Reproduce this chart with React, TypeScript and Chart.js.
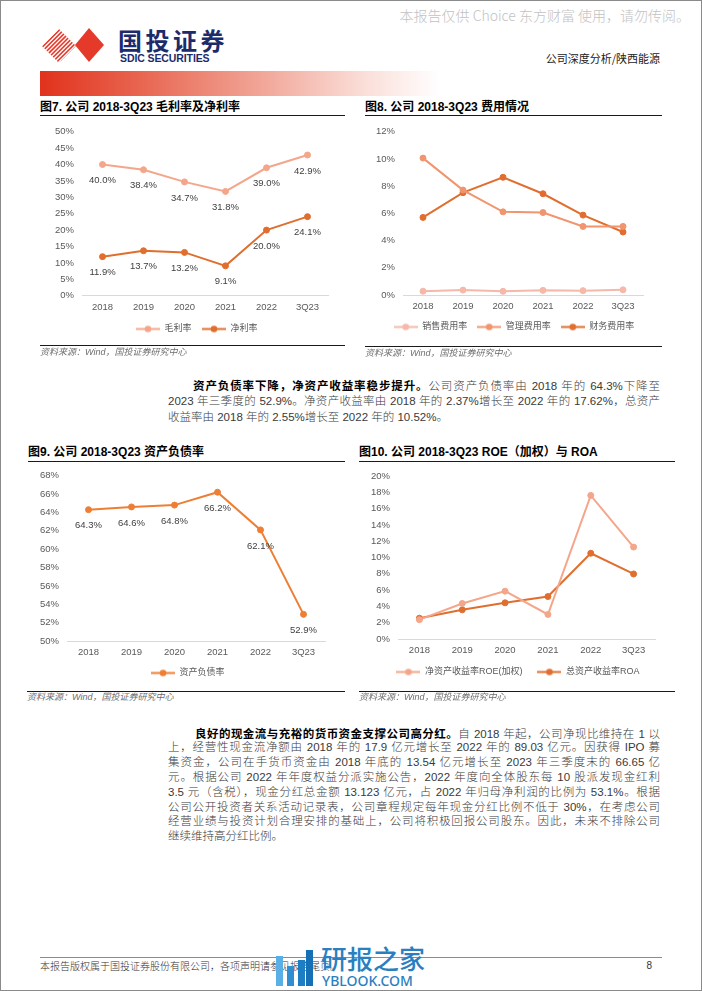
import React, { useEffect, useRef } from 'react';
import { Chart, registerables } from 'chart.js';

Chart.register(...registerables);

// ---------- DATA ----------
const CATEGORIES = ['2018', '2019', '2020', '2021', '2022', '3Q23'];

// 图7 毛利率 / 净利率 (%)
const GROSS_MARGIN = [40.0, 38.4, 34.7, 31.8, 39.0, 42.9];
const NET_MARGIN = [11.9, 13.7, 13.2, 9.1, 20.0, 24.1];
const FIG7_TICKS = [0, 5, 10, 15, 20, 25, 30, 35, 40, 45, 50];

// 图8 费用率 (%)
const SELLING_RATE = [0.28, 0.36, 0.27, 0.34, 0.32, 0.38];
const ADMIN_RATE = [10.06, 7.71, 6.11, 6.06, 5.04, 5.04];
const FINANCE_RATE = [5.7, 7.52, 8.65, 7.44, 5.87, 4.63];
const FIG8_TICKS = [0, 2, 4, 6, 8, 10, 12];

// 图9 资产负债率 (%)
const DEBT_RATIO = [64.3, 64.6, 64.8, 66.2, 62.1, 52.9];
const FIG9_TICKS = [50, 52, 54, 56, 58, 60, 62, 64, 66, 68];

// 图10 ROE / ROA (%)
const ROE = [2.37, 4.36, 5.87, 3.01, 17.62, 11.28];
const ROA = [2.55, 3.58, 4.44, 5.21, 10.52, 7.98];
const FIG10_TICKS = [0, 2, 4, 6, 8, 10, 12, 14, 16, 18, 20];

// ---------- STYLE ----------
const C_LIGHT = '#F4A68B';
const C_MID = '#F0956E';
const C_PALE = '#F5B8A9';
const C_DARK = '#E06E2E';
const C_ORANGE = '#EE7E34';

const FONT_LATIN = "'Liberation Sans', Arial, 'Noto Sans CJK SC', sans-serif";
const FONT_CJK = "'Noto Sans CJK SC', 'Liberation Sans', sans-serif";
const FONT_PARA = "'Liberation Sans Narrow', 'Liberation Sans', 'Noto Sans CJK SC', sans-serif";

// layout boxes (absolute page coords)
const FIG7_BOX = { L: 30, T: 118, W: 320, plotL: 82, plotT: 128.3, plotR: 328, plotB: 295.7, legCX: 196.75, legCY: 329, P: 10.5, fs: 9, xPad: 5.6 };
const FIG8_BOX = { L: 360, T: 118, W: 310, plotL: 403, plotT: 130, plotR: 643, plotB: 295, legCX: 514, legCY: 327, P: 10, fs: 9, xPad: 5.3 };
const FIG9_BOX = { L: 20, T: 462, W: 320, plotL: 67, plotT: 473, plotR: 325, plotB: 641, legCX: 187.8, legCY: 673, P: 10, fs: 9, xPad: 5.3 };
const FIG10_BOX = { L: 350, T: 462, W: 320, plotL: 398, plotT: 476, plotR: 655, plotB: 639, legCX: 518, legCY: 672, P: 15, fs: 9, xPad: 6 };

const X_AXIS_H = 20;

function computeLayout(b: any) {
  const pt = b.plotT - b.T;
  const pr = b.L + b.W - b.plotR;
  const yw = b.plotL - b.L;
  const legH = b.fs + b.P + 10;
  const need = b.plotB - b.T + X_AXIS_H + legH;
  const H = Math.ceil(need + 1);
  const pb = H - need;
  return { H, padding: { top: pt, left: 0, right: pr, bottom: pb }, yw, xh: X_AXIS_H };
}

function legendMarker(color: string) {
  const c = document.createElement('canvas');
  c.width = 24;
  c.height = 9;
  const ctx = c.getContext('2d')!;
  ctx.strokeStyle = color;
  ctx.lineWidth = 2;
  ctx.beginPath();
  ctx.moveTo(0, 4.5);
  ctx.lineTo(24, 4.5);
  ctx.stroke();
  ctx.fillStyle = color;
  ctx.beginPath();
  ctx.arc(12, 4.5, 3.3, 0, Math.PI * 2);
  ctx.fill();
  return c;
}

const valueLabelPlugin = {
  id: 'valueLabels',
  afterDatasetsDraw(chart: any, _args: any, opts: any) {
    if (!opts || !opts.display) return;
    const ctx = chart.ctx;
    ctx.save();
    ctx.font = `${opts.size}px ${opts.family}`;
    ctx.fillStyle = opts.color;
    ctx.textAlign = 'center';
    ctx.textBaseline = 'middle';
    chart.data.datasets.forEach((ds: any, i: number) => {
      const meta = chart.getDatasetMeta(i);
      meta.data.forEach((pt: any, j: number) => {
        ctx.fillText(Number(ds.data[j]).toFixed(1) + '%', pt.x, pt.y + opts.offset);
      });
    });
    ctx.restore();
  },
};

// moves the legend box so that its item row is centred on (cx, cy)
const legendPlacePlugin = {
  id: 'legendPlace',
  afterLayout(chart: any, _args: any, opts: any) {
    const lg = chart.legend;
    if (!lg || !opts || opts.cx == null) return;
    const dx = opts.cx - (lg.left + lg.right) / 2;
    const dy = opts.cy - (lg.top + opts.P + opts.fs / 2);
    lg.left += dx;
    lg.right += dx;
    lg.top += dy;
    lg.bottom += dy;
  },
};

type Series = { label: string; data: number[]; color: string };

function LineChart({ box, series, ticks, showValues }: { box: any; series: Series[]; ticks: number[]; showValues: boolean }) {
  const ref = useRef<HTMLCanvasElement>(null);
  const lay = computeLayout(box);
  useEffect(() => {
    const chart = new Chart(ref.current as HTMLCanvasElement, {
      type: 'line',
      data: {
        labels: CATEGORIES,
        datasets: series.map((s) => ({
          label: s.label,
          data: s.data,
          borderColor: s.color,
          backgroundColor: s.color,
          pointBackgroundColor: s.color,
          pointBorderColor: s.color,
          pointRadius: 3,
          pointBorderWidth: 1,
          pointHoverRadius: 3,
          borderWidth: 2,
          tension: 0,
          fill: false,
          clip: false as any,
        })),
      },
      options: {
        responsive: false,
        animation: false,
        devicePixelRatio: 1,
        events: [],
        layout: { padding: lay.padding },
        scales: {
          x: {
            type: 'category',
            offset: true,
            grid: { display: false, drawTicks: false },
            border: { display: true, color: '#d9d9d9', width: 1 },
            ticks: { color: '#595959', font: { size: 9.5, family: FONT_LATIN }, padding: box.xPad, maxRotation: 0, autoSkip: false },
            afterFit: (s: any) => { s.height = lay.xh; },
          },
          y: {
            min: ticks[0],
            max: ticks[ticks.length - 1],
            grid: { display: false, drawTicks: false },
            border: { display: false },
            ticks: { color: '#595959', font: { size: 9.5, family: FONT_LATIN }, padding: 8, callback: (v: any) => v + '%' },
            afterBuildTicks: (s: any) => { s.ticks = ticks.map((v) => ({ value: v })); },
            afterFit: (s: any) => { s.width = lay.yw; },
          },
        },
        plugins: {
          legend: {
            position: 'bottom',
            align: 'center',
            labels: {
              usePointStyle: true,
              pointStyleWidth: 24,
              padding: box.P,
              color: '#595959',
              font: { size: box.fs, family: FONT_LATIN },
              generateLabels: (c: any) => {
                const items = (Chart.defaults.plugins.legend.labels as any).generateLabels(c);
                items.forEach((it: any, i: number) => { it.pointStyle = legendMarker(series[i].color); });
                return items;
              },
            },
          },
          tooltip: { enabled: false },
          valueLabels: { display: showValues, offset: 16, color: '#404040', size: 9.5, family: FONT_LATIN },
          legendPlace: { cx: box.legCX - box.L, cy: box.legCY - box.T, P: box.P, fs: box.fs },
        } as any,
      },
      plugins: [valueLabelPlugin as any, legendPlacePlugin as any],
    });
    return () => chart.destroy();
  }, []);
  return (
    <canvas
      ref={ref}
      width={box.W}
      height={lay.H}
      style={{ position: 'absolute', left: box.L, top: box.T, width: box.W, height: lay.H, display: 'block' }}
    />
  );
}

// ---------- TEXT HELPERS ----------
function Txt({ x, y, size, lh, children, style, right }: any) {
  const h = lh || Math.round(size * 1.4);
  const pos: any = { position: 'absolute', top: y - h / 2, lineHeight: h + 'px', fontSize: size, whiteSpace: 'nowrap' };
  if (right !== undefined) pos.right = 702 - right;
  else pos.left = x;
  return <div style={{ ...pos, ...style }}>{children}</div>;
}

function Rule({ x1, x2, y, h = 1, color = '#1a1a1a' }: any) {
  return <div style={{ position: 'absolute', left: x1, top: y, width: x2 - x1, height: h, background: color }} />;
}

function FigTitle({ x, y, x2, lineY, text }: any) {
  return (
    <>
      <Txt x={x} y={y} size={12} style={{ fontWeight: 700, color: '#000', fontFamily: FONT_LATIN }}>{text}</Txt>
      <Rule x1={x} x2={x2} y={lineY} h={1.3} />
    </>
  );
}

function Source({ x, x2, lineY, y }: any) {
  return (
    <>
      <Rule x1={x} x2={x2} y={lineY} h={1.3} />
      <Txt x={x} y={y} size={9} style={{ fontStyle: 'italic', color: '#6e6e6e', fontFamily: FONT_LATIN }}>资料来源：Wind，国投证券研究中心</Txt>
    </>
  );
}

function JLine({ x, y, lh, bold, text, last }: any) {
  return (
    <div
      style={{
        position: 'absolute',
        left: x,
        top: y - lh / 2,
        width: 660 - x,
        height: lh,
        lineHeight: lh + 'px',
        fontSize: 11.5,
        whiteSpace: 'nowrap',
        textAlign: last ? 'left' : 'justify',
        textAlignLast: last ? 'left' : 'justify',
        textJustify: 'inter-character',
        color: '#3a3a3a',
        fontFamily: FONT_PARA,
        fontWeight: 300,
      } as any}
    >
      {bold ? <span style={{ fontWeight: 700, color: '#000', fontFamily: FONT_CJK }}>{bold}</span> : null}
      {text}
    </div>
  );
}

const PARA1 = [
  { bold: '资产负债率下降，净资产收益率稳步提升。', text: '公司资产负债率由 2018 年的 64.3%下降至' },
  { text: '2023 年三季度的 52.9%。净资产收益率由 2018 年的 2.37%增长至 2022 年的 17.62%，总资产' },
  { text: '收益率由 2018 年的 2.55%增长至 2022 年的 10.52%。', last: true },
];

const PARA2 = [
  { bold: '良好的现金流与充裕的货币资金支撑公司高分红。', text: '自 2018 年起，公司净现比维持在 1 以' },
  { text: '上，经营性现金流净额由 2018 年的 17.9 亿元增长至 2022 年的 89.03 亿元。因获得 IPO 募' },
  { text: '集资金，公司在手货币资金由 2018 年底的 13.54 亿元增长至 2023 年三季度末的 66.65 亿' },
  { text: '元。根据公司 2022 年年度权益分派实施公告，2022 年度向全体股东每 10 股派发现金红利' },
  { text: '3.5 元（含税），现金分红总金额 13.123 亿元，占 2022 年归母净利润的比例为 53.1%。根据' },
  { text: '公司公开投资者关系活动记录表，公司章程规定每年现金分红比例不低于 30%，在考虑公司' },
  { text: '经营业绩与投资计划合理安排的基础上，公司将积极回报公司股东。因此，未来不排除公司' },
  { text: '继续维持高分红比例。', last: true },
];

function Logo() {
  const stripes = [];
  for (let i = -6; i < 12; i++) {
    const x0 = i * 4.2;
    stripes.push(<line key={i} x1={x0} y1={36} x2={x0 + 34} y2={2} stroke="#E5392A" strokeWidth={1.6} />);
  }
  return (
    <svg style={{ position: 'absolute', left: 40, top: 26 }} width={68} height={38}>
      <defs>
        <clipPath id="stripeClip">
          <polygon points="2,20 19,3 36,20 19,37" />
        </clipPath>
      </defs>
      <g clipPath="url(#stripeClip)">{stripes}</g>
      <polygon points="35,19 49,2 64,19 49,36" fill="#E5392A" />
    </svg>
  );
}

export default function App() {
  return (
    <div style={{ position: 'absolute', left: 0, top: 0, width: 702, height: 991, background: '#fff', overflow: 'hidden', fontFamily: FONT_CJK }}>
      {/* header */}
      <Txt right={690} y={15} size={14} style={{ color: '#c2c2c2', fontWeight: 300 }}>本报告仅供 Choice 东方财富 使用，请勿传阅。</Txt>
      <Logo />
      <Txt x={118} y={40} size={24} lh={28} style={{ color: '#1C2B6B', fontWeight: 700, letterSpacing: 3.5 }}>国投证券</Txt>
      <Txt x={120} y={58} size={10.5} lh={12} style={{ color: '#1C2B6B', fontWeight: 700, fontFamily: FONT_LATIN, letterSpacing: -0.1 }}>SDIC SECURITIES</Txt>
      <Txt right={660} y={58} size={11} style={{ color: '#222' }}>公司深度分析/陕西能源</Txt>
      <div style={{ position: 'absolute', left: 40, top: 71, width: 400, height: 25, background: 'linear-gradient(90deg, #E1321C 0%, #E86550 25%, #F1A597 55%, #FADCD6 80%, #FFFFFF 100%)' }} />

      {/* figure 7 */}
      <FigTitle x={40} y={107} x2={345} lineY={114.5} text="图7. 公司 2018-3Q23 毛利率及净利率" />
      <LineChart
        box={FIG7_BOX}
        ticks={FIG7_TICKS}
        showValues={true}
        series={[
          { label: '毛利率', data: GROSS_MARGIN, color: C_LIGHT },
          { label: '净利率', data: NET_MARGIN, color: C_DARK },
        ]}
      />
      <Source x={40} x2={345} lineY={344.5} y={352} />

      {/* figure 8 */}
      <FigTitle x={365} y={107} x2={662} lineY={114.5} text="图8. 公司 2018-3Q23 费用情况" />
      <LineChart
        box={FIG8_BOX}
        ticks={FIG8_TICKS}
        showValues={false}
        series={[
          { label: '销售费用率', data: SELLING_RATE, color: C_PALE },
          { label: '管理费用率', data: ADMIN_RATE, color: C_MID },
          { label: '财务费用率', data: FINANCE_RATE, color: C_DARK },
        ]}
      />
      <Source x={365} x2={662} lineY={345.5} y={353} />

      {/* paragraph 1 */}
      {PARA1.map((l, i) => (
        <JLine key={i} x={i === 0 ? 193 : 168} y={385 + i * 16} lh={16} bold={(l as any).bold} text={l.text} last={(l as any).last} />
      ))}

      {/* figure 9 */}
      <FigTitle x={28} y={452} x2={345} lineY={460.5} text="图9. 公司 2018-3Q23 资产负债率" />
      <LineChart
        box={FIG9_BOX}
        ticks={FIG9_TICKS}
        showValues={true}
        series={[{ label: '资产负债率', data: DEBT_RATIO, color: C_ORANGE }]}
      />
      <Source x={27} x2={345} lineY={690.5} y={697} />

      {/* figure 10 */}
      <FigTitle x={359} y={452} x2={675} lineY={460.5} text="图10. 公司 2018-3Q23 ROE（加权）与 ROA" />
      <LineChart
        box={FIG10_BOX}
        ticks={FIG10_TICKS}
        showValues={false}
        series={[
          { label: '净资产收益率ROE(加权)', data: ROE, color: C_LIGHT },
          { label: '总资产收益率ROA', data: ROA, color: C_DARK },
        ]}
      />
      <Source x={359} x2={675} lineY={690.5} y={697} />

      {/* paragraph 2 */}
      {PARA2.map((l, i) => (
        <JLine key={i} x={i === 0 ? 195 : 168} y={733 + i * 14.8} lh={14.8} bold={(l as any).bold} text={l.text} last={(l as any).last} />
      ))}

      {/* footer */}
      <Rule x1={40} x2={662} y={956.5} h={1.5} color="#8c8c8c" />
      <Txt x={40} y={966} size={10} style={{ color: '#333', fontWeight: 300 }}>本报告版权属于国投证券股份有限公司，各项声明请参见报告尾页。</Txt>
      <Txt right={652} y={966} size={10} style={{ color: '#333', fontFamily: FONT_LATIN }}>8</Txt>

      {/* site watermark */}
      <div style={{ position: 'absolute', left: 276, top: 956, width: 7, height: 30, background: '#5AB0E6' }} />
      <div style={{ position: 'absolute', left: 287, top: 966, width: 7, height: 20, background: '#2F8FD0' }} />
      <div style={{ position: 'absolute', left: 298, top: 960, width: 7, height: 26, background: '#1E7EC3' }} />
      <div style={{ position: 'absolute', left: 306, top: 950, width: 7, height: 36, background: '#1670B5' }} />
      <Txt x={321} y={958} size={26} lh={30} style={{ color: '#2A7FC1', fontWeight: 500 }}>研报之家</Txt>
      <Txt x={322} y={981} size={14} lh={16} style={{ color: '#2A7FC1', fontFamily: "'Noto Sans', sans-serif", fontWeight: 500 }}>YBLOOK.COM</Txt>

      {/* page border */}
      <div style={{ position: 'absolute', left: 0, top: 0, width: 702, height: 991, boxSizing: 'border-box', border: '1px solid #8a8a8a', pointerEvents: 'none' }} />
    </div>
  );
}
